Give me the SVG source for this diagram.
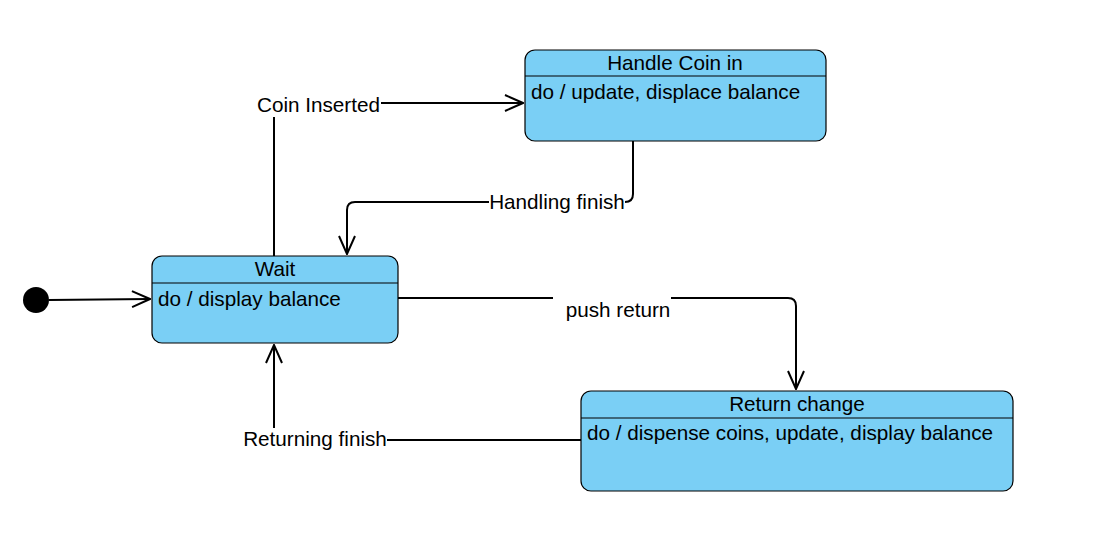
<svg xmlns="http://www.w3.org/2000/svg" width="1096" height="534" viewBox="0 0 1096 534">
<style>
.st{fill:#7ACFF5;stroke:#000;stroke-width:1.2}
.dv{stroke:#000;stroke-width:1.2}
.t{font-family:"Liberation Sans",Arial,sans-serif;font-size:20.7px;fill:#000}
.c{fill:none;stroke:#000;stroke-width:2}
.lb{fill:#fff}
</style>
<defs>
<marker id="a" viewBox="0 0 20 20" refX="19" refY="10" markerWidth="20" markerHeight="20" markerUnits="userSpaceOnUse" orient="auto">
<path d="M1,2 L19,10 L1,18" fill="none" stroke="#000" stroke-width="2"/>
</marker>
</defs>
<rect width="1096" height="534" fill="#fff"/>
<g id="connectors">
<path class="c" d="M49,300 L150,299" marker-end="url(#a)"/>
<path class="c" d="M274,256 L274,103 L523,103" marker-end="url(#a)"/>
<rect class="lb" x="257" y="93" width="124" height="24"/>
<text class="t" x="318.5" y="112" text-anchor="middle">Coin Inserted</text>
<path class="c" d="M633,141 L633,194 Q633,202 625,202 L355,202 Q347,202 347,210 L347,254" marker-end="url(#a)"/>
<rect class="lb" x="489" y="191" width="136" height="24"/>
<text class="t" x="557" y="209" text-anchor="middle">Handling finish</text>
<path class="c" d="M398,298 L788,298 Q796,298 796,306 L796,389" marker-end="url(#a)"/>
<rect class="lb" x="553" y="296" width="118" height="26"/>
<text class="t" x="618" y="317" text-anchor="middle">push return</text>
<path class="c" d="M581,440 L274,440 L274,345" marker-end="url(#a)"/>
<rect class="lb" x="243" y="428" width="144" height="24"/>
<text class="t" x="315" y="446" text-anchor="middle">Returning finish</text>
</g>
<g id="initial">
<circle cx="36" cy="300" r="13" fill="#000"/>
</g>
<g id="wait">
<rect class="st" x="152" y="256" width="246" height="87" rx="10"/>
<line class="dv" x1="152" y1="283" x2="398" y2="283"/>
<text class="t" x="275" y="276" text-anchor="middle">Wait</text>
<text class="t" x="158" y="306">do / display balance</text>
</g>
<g id="handle">
<rect class="st" x="525" y="50" width="301" height="91" rx="10"/>
<line class="dv" x1="525" y1="76" x2="826" y2="76"/>
<text class="t" x="675" y="70" text-anchor="middle">Handle Coin in</text>
<text class="t" x="531" y="99">do / update, displace balance</text>
</g>
<g id="return">
<rect class="st" x="581" y="391" width="432" height="100" rx="10"/>
<line class="dv" x1="581" y1="418" x2="1013" y2="418"/>
<text class="t" x="797" y="411" text-anchor="middle">Return change</text>
<text class="t" x="587" y="440">do / dispense coins, update, display balance</text>
</g>
</svg>
